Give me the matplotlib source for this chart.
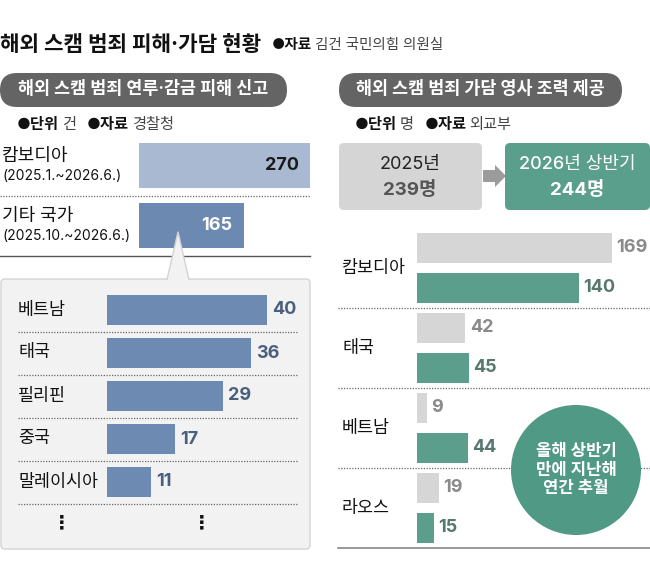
import matplotlib
matplotlib.use('Agg')
import matplotlib.pyplot as plt
import matplotlib.transforms as mtransforms
from matplotlib.patches import FancyBboxPatch, Polygon, Circle

plt.rcParams['font.family'] = ['Inter', 'Noto Sans CJK KR', 'DejaVu Sans']

# 데이터
victim_countries = ['캄보디아', '기타 국가']
victim_periods = ['(2025.1.~2026.6.)', '(2025.10.~2026.6.)']
victim_counts = [270, 165]

other_countries = ['베트남', '태국', '필리핀', '중국', '말레이시아']
other_counts = [40, 36, 29, 17, 11]

aid_countries = ['캄보디아', '태국', '베트남', '라오스']
aid_2025 = [169, 42, 9, 19]
aid_2026h1 = [140, 45, 44, 15]
total_2025 = 239
total_2026h1 = 244

W, H = 650, 576
fig = plt.figure(figsize=(W / 100, H / 100), dpi=100)
fig.patch.set_facecolor('white')


def px_axes(x0, y0, x1, y1, z):
    ax = fig.add_axes([x0 / W, 1 - y1 / H, (x1 - x0) / W, (y1 - y0) / H], zorder=z)
    ax.set_facecolor('none')
    ax.axis('off')
    return ax


def chain(ax, x, y, parts):
    # parts: (글자, 굵기, 색, 크기, 앞 간격)
    s, w, c, size, _ = parts[0]
    t = ax.text(x, y, s, fontsize=size, fontweight=w, color=c, va='center', ha='left')
    for s, w, c, size, gap in parts[1:]:
        t = ax.annotate(s, xy=(1, 0.5), xycoords=t, xytext=(gap, 0), textcoords='offset points',
                        fontsize=size, fontweight=w, color=c, va='center', ha='left')


# 배경 레이어 (픽셀 좌표)
bg = px_axes(0, 0, W, H, 0)
bg.set_xlim(0, W)
bg.set_ylim(H, 0)
fg = px_axes(0, 0, W, H, 5)
fg.set_xlim(0, W)
fg.set_ylim(H, 0)

# 제목
chain(bg, 0, 45, [('해외 스캠 범죄 피해·가담 현황', 'bold', '#111111', 15.3, 0),
                  ('●자료', 'bold', '#111111', 10.5, 8),
                  ('김건 국민의힘 의원실', 'medium', '#444444', 10.5, 2)])

# 알약 모양 제목
for x0, w, label in [(0, 287, '해외 스캠 범죄 연루·감금 피해 신고'),
                     (339, 283, '해외 스캠 범죄 가담 영사 조력 제공')]:
    bg.add_patch(FancyBboxPatch((x0, 73), w, 34, boxstyle='round,pad=0,rounding_size=17',
                                fc='#646464', ec='none'))
    bg.text(x0 + w / 2, 90, label, color='white', fontsize=12.5, fontweight='bold',
            ha='center', va='center')

for x, unit, src in [(17, '건', '경찰청'), (355, '명', '외교부')]:
    chain(bg, x, 125, [('●단위', 'bold', '#111111', 11, 0), (unit, 'medium', '#444444', 11, 2),
                       ('●자료', 'bold', '#111111', 11, 8), (src, 'medium', '#444444', 11, 2)])

# 왼쪽 위: 캄보디아 / 기타 국가
ax1 = px_axes(139, 136, 310, 256, 2)
ax1.set_xlim(0, max(victim_counts))
ax1.set_ylim(len(victim_counts) - 0.5, -0.5)
tr1 = mtransforms.blended_transform_factory(bg.transData, ax1.transData)
ax1.barh(range(len(victim_counts)), victim_counts, height=0.75,
         color=['#a9b9d1', '#6b89b1'])
for i, (c, p, v) in enumerate(zip(victim_countries, victim_periods, victim_counts)):
    ax1.text(2, i - 0.15, c, transform=tr1, fontsize=13, fontweight='medium',
             va='center', ha='left', color='#111111')
    ax1.text(2, i + 0.16, p, transform=tr1, fontsize=10, va='center', ha='left',
             color='#111111')
    ax1.annotate(str(v), xy=(v, i), xytext=(-8, 0), textcoords='offset points',
                 ha='right', va='center', fontsize=13, fontweight='bold',
                 color='#1a1a1a' if i == 0 else 'white')
ax1.plot([0, 310], [0.5, 0.5], transform=tr1, clip_on=False, color='#666666', lw=0.9,
         ls=(0, (1, 1.2)))
ax1.plot([0, 310], [1.5, 1.5], transform=tr1, clip_on=False, color='#555555', lw=1)

# 말풍선 상자
bg.add_patch(FancyBboxPatch((1, 279), 309, 270, boxstyle='round,pad=0,rounding_size=4',
                            fc='#f2f2f2', ec='#d3d3d3', lw=1))
fg.add_patch(Polygon([(167, 280.5), (178, 232), (189, 280.5)], closed=True,
                     fc='#f2f2f2', ec='none'))
fg.plot([167, 178, 189], [279.5, 232, 279.5], color='#d3d3d3', lw=1)

# 왼쪽 아래: 기타 국가 내역
ax2 = px_axes(107, 288.5, 267, 503.5, 2)
ax2.set_xlim(0, max(other_counts))
ax2.set_ylim(len(other_counts) - 0.5, -0.5)
tr2 = mtransforms.blended_transform_factory(bg.transData, ax2.transData)
ax2.barh(range(len(other_counts)), other_counts, height=0.7, color='#6c8ab2')
for i, (c, v) in enumerate(zip(other_countries, other_counts)):
    ax2.text(18, i, c, transform=tr2, fontsize=12.5, fontweight='medium',
             va='center', ha='left', color='#111111')
    ax2.annotate(str(v), xy=(v, i), xytext=(3.5, 0), textcoords='offset points',
                 ha='left', va='center', fontsize=13, fontweight='bold', color='#4a5e7e')
    ax2.plot([18, 297], [i + 0.5, i + 0.5], transform=tr2, clip_on=False, color='#666666',
             lw=0.9, ls=(0, (1, 1.2)))
for x in [62, 202]:
    bg.text(x, 523, '⋮', fontsize=14, ha='center', va='center', color='#111111',
            fontweight='bold', family=['DejaVu Sans'])

# 오른쪽: 연도 비교 상자
bg.add_patch(FancyBboxPatch((339, 143), 143, 67, boxstyle='round,pad=0,rounding_size=5',
                            fc='#d5d5d5', ec='none'))
bg.text(410, 165, '2025년', fontsize=13, ha='center', va='center', color='#222222')
bg.text(410, 190, f'{total_2025}명', fontsize=13.5, ha='center', va='center',
        color='#555555', fontweight='bold')
bg.add_patch(Polygon([(483, 170), (495, 170), (495, 165), (506, 176), (495, 187),
                      (495, 182), (483, 182)], closed=True, fc='#9b9b9b', ec='none'))
bg.add_patch(FancyBboxPatch((505, 143), 145, 67, boxstyle='round,pad=0,rounding_size=5',
                            fc='#5a9e8c', ec='none'))
bg.text(577, 165, '2026년 상반기', fontsize=13, ha='center', va='center', color='white',
        fontweight='medium')
bg.text(577, 190, f'{total_2026h1}명', fontsize=13.5, ha='center', va='center',
        color='white', fontweight='bold')

# 오른쪽: 국가별 영사 조력
ax3 = px_axes(417, 228, 612, 548, 2)
ax3.set_xlim(0, max(aid_2025))
ax3.set_ylim(len(aid_countries) - 0.5, -0.5)
tr3 = mtransforms.blended_transform_factory(bg.transData, ax3.transData)
ypos = list(range(len(aid_countries)))
ax3.barh([y - 0.25 for y in ypos], aid_2025, height=0.375, color='#d6d6d6')
ax3.barh([y + 0.25 for y in ypos], aid_2026h1, height=0.375, color='#5b9e8b')
for i, c in enumerate(aid_countries):
    ax3.text(342, i, c, transform=tr3, fontsize=12.5, fontweight='medium',
             va='center', ha='left', color='#111111')
    ax3.annotate(str(aid_2025[i]), xy=(aid_2025[i], i - 0.25), xytext=(3, 0),
                 textcoords='offset points', ha='left', va='center', fontsize=13,
                 fontweight='bold', color='#8a8a8a')
    ax3.annotate(str(aid_2026h1[i]), xy=(aid_2026h1[i], i + 0.25), xytext=(3, 0),
                 textcoords='offset points', ha='left', va='center', fontsize=13,
                 fontweight='bold', color='#56786e')
    if i < len(aid_countries) - 1:
        ax3.plot([338, 650], [i + 0.5, i + 0.5], transform=tr3, clip_on=False,
                 color='#666666', lw=0.9, ls=(0, (1, 1.2)))
ax3.plot([338, 650], [3.5, 3.5], transform=tr3, clip_on=False, color='#888888', lw=1.2)

# 원형 강조
fg.add_patch(Circle((576, 470), 65, fc='#4f9985', ec='none'))
fg.text(576, 470, '올해 상반기\n만에 지난해\n연간 추월', fontsize=12, fontweight='bold',
        color='white', ha='center', va='center', linespacing=1.3)

fig.savefig('out.png', dpi=100)
